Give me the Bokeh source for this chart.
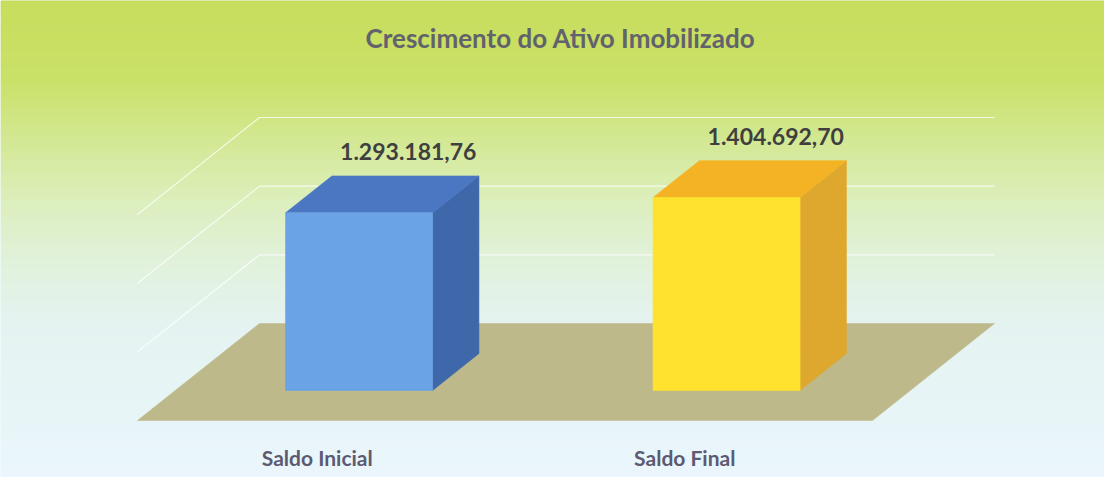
import numpy as np
from bokeh.plotting import figure
from bokeh.models import Range1d
from bokeh.core.properties import value
from bokeh.embed import file_html
from bokeh.resources import INLINE

# ---------------- data ----------------
title_text = "Crescimento do Ativo Imobilizado"
categories = ["Saldo Inicial", "Saldo Final"]
values = [1293181.76, 1404692.70]
grid_values = [0, 500000, 1000000, 1500000]
front_colors = ["#6aa3e6", "#ffe22e"]
side_colors = ["#3f68ab", "#dea82f"]
top_colors = ["#4b77c2", "#f4b324"]

# ---------------- layout (pixels in figure space) ----------------
W, H = 1104, 477
FLOOR_LEFT_PX = 137.0        # front-left corner of floor, x
FLOOR_FRONT_PX = 420.0       # front edge of floor, y from top
CAT_PX = 367.5               # pixels per category unit
DEPTH_DX_PX = 122.0          # oblique depth offset x
DEPTH_DY_PX = 97.0           # oblique depth offset y
VMAX = grid_values[-1]
VMAX_PX = 206.0              # height of top gridline above back floor
PXV = VMAX_PX / VMAX         # pixels per value unit
BACK_FLOOR_PX = FLOOR_FRONT_PX - DEPTH_DY_PX

DXd = DEPTH_DX_PX / CAT_PX
DYd = DEPTH_DY_PX / PXV

x0 = -FLOOR_LEFT_PX / CAT_PX
x1 = (W - FLOOR_LEFT_PX) / CAT_PX
ytop = BACK_FLOOR_PX / PXV
ybot = (BACK_FLOOR_PX - H) / PXV


def proj(cx, v, d):
    """oblique projection: d=0 front of floor, d=1 back wall"""
    return cx + d * DXd, v - (1 - d) * DYd


def px_to_v(py):
    return (BACK_FLOOR_PX - py) / PXV


def br(v):
    s = f"{v:,.2f}"
    return s.replace(",", "X").replace(".", ",").replace("X", ".")


p = figure(width=W, height=H, x_range=Range1d(x0, x1), y_range=Range1d(ybot, ytop),
           output_backend="svg", toolbar_location=None, min_border=0,
           x_axis_location=None, y_axis_location=None)
p.grid.visible = False
p.outline_line_color = None
p.background_fill_color = "#eaf5fb"
p.border_fill_color = "white"

# ---------------- background gradient ----------------
stop_px = np.array([0, 80, 130, 190, 250, 320, 477], dtype=float)
stop_rgb = np.array([
    [198, 221, 92],
    [202, 225, 104],
    [209, 231, 140],
    [219, 238, 182],
    [224, 241, 214],
    [228, 243, 240],
    [234, 246, 252],
], dtype=float)
nb = 160
edges = np.linspace(0, H, nb + 1)
bl, br_, bt, bb, bc = [], [], [], [], []
for k in range(nb):
    mid = 0.5 * (edges[k] + edges[k + 1])
    rgb = [int(round(np.interp(mid, stop_px, stop_rgb[:, c]))) for c in range(3)]
    bl.append(x0)
    br_.append(x1)
    bt.append(px_to_v(edges[k] - 0.5))
    bb.append(px_to_v(edges[k + 1] + 0.5))
    bc.append("#%02x%02x%02x" % tuple(rgb))
p.quad(left=bl, right=br_, top=bt, bottom=bb, fill_color=bc, line_color=None)

# ---------------- gridlines (back wall + left side wall) ----------------
gxs, gys = [], []
ncat = len(categories)
for gv in grid_values[1:]:
    a = proj(0, gv, 0)
    b = proj(0, gv, 1)
    c = proj(ncat, gv, 1)
    gxs.append([a[0], b[0], c[0]])
    gys.append([a[1], b[1], c[1]])
p.multi_line(gxs, gys, line_color="white", line_alpha=0.75, line_width=1.2)

# ---------------- floor ----------------
fl = [proj(0, 0, 0), proj(ncat, 0, 0), proj(ncat, 0, 1), proj(0, 0, 1)]
p.patch([q[0] for q in fl], [q[1] for q in fl], fill_color="#bdb98a",
        line_color="#bdb98a", line_width=0.5)

# ---------------- bars ----------------
HW = 0.2
D0, D1 = 0.31, 0.69
for i, (cat, v) in enumerate(zip(categories, values)):
    cx = i + 0.5
    side = [proj(cx + HW, 0, D0), proj(cx + HW, 0, D1), proj(cx + HW, v, D1), proj(cx + HW, v, D0)]
    top = [proj(cx - HW, v, D0), proj(cx + HW, v, D0), proj(cx + HW, v, D1), proj(cx - HW, v, D1)]
    front = [proj(cx - HW, 0, D0), proj(cx + HW, 0, D0), proj(cx + HW, v, D0), proj(cx - HW, v, D0)]
    for poly, col in ((side, side_colors[i]), (top, top_colors[i]), (front, front_colors[i])):
        p.patch([q[0] for q in poly], [q[1] for q in poly], fill_color=col,
                line_color=col, line_width=0.6)

# ---------------- value labels ----------------
lx, ly, lt = [], [], []
for i, v in enumerate(values):
    q = proj(i + 0.5, v, 1)
    lx.append(q[0]); ly.append(q[1]); lt.append(br(v))
p.text(x=lx, y=ly, text=lt, text_font=value("Lato"), text_font_style="bold",
       text_font_size="23px", text_color="#3f3f3f", text_align="center",
       text_baseline="middle", x_offset=-35, y_offset=6)

# ---------------- category labels ----------------
cxs, cys = [], []
for i in range(ncat):
    q = proj(i + 0.5, 0, 0)
    cxs.append(q[0]); cys.append(q[1])
p.text(x=cxs, y=cys, text=categories, text_font=value("Lato"), text_font_style="bold",
       text_font_size="21px", text_color="#5d5a72", text_align="center",
       text_baseline="middle", x_offset=-4, y_offset=37)

# ---------------- title ----------------
p.text(x=[(560 - FLOOR_LEFT_PX) / CAT_PX], y=[px_to_v(37)], text=[title_text],
       text_font=value("Lato"), text_font_style="bold", text_font_size="26px",
       text_color="#62626c", text_align="center", text_baseline="middle")

open("out.html", "w").write(file_html(p, INLINE))
